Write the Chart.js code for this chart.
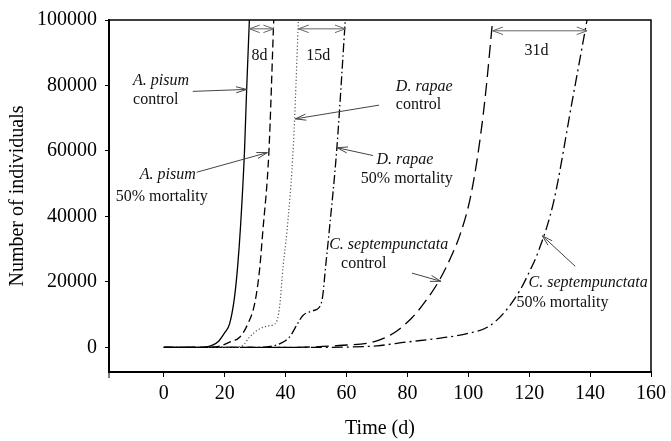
<!DOCTYPE html>
<html>
<head>
<meta charset="utf-8">
<script src="https://cdn.jsdelivr.net/npm/chart.js@4.4.1/dist/chart.umd.min.js"></script>
<style>
  html, body { margin: 0; padding: 0; background: #fff; }
  #wrap { width: 671px; height: 441px; }
</style>
</head>
<body>
<div id="wrap"><canvas id="growth-chart" width="671" height="441"></canvas></div>
<script>
// axis ticks
const xTicks = [0, 20, 40, 60, 80, 100, 120, 140, 160]
const yTicks = [0, 20000, 40000, 60000, 80000, 100000]

// series: time (d) / number of individuals
const apisumCtrlT = [0, 10, 14, 16, 18, 20, 21.6, 23.2, 24.3, 25.2, 26.5, 27.2, 28.1]
const apisumCtrlN = [0, 0, 200, 700, 1900, 4500, 7200, 15200, 25300, 37000, 60000, 78600, 100000]

const apisumMortT = [0, 12, 17, 19, 21.6, 24.9, 27.6, 29.8, 31.4, 32.5, 34.5, 36.1]
const apisumMortN = [0, 0, 150, 600, 1600, 3100, 7200, 13200, 23300, 35300, 59500, 100000]

const rapaeCtrlT = [0, 20, 24, 26, 28.1, 31.4, 34.7, 36.9, 38, 39.2, 40.4, 42.6, 44.2]
const rapaeCtrlN = [0, 0, 200, 600, 3100, 5650, 6650, 7650, 12200, 25000, 35000, 62500, 100000]

const rapaeMortT = [0, 30, 35, 38, 41.2, 43.9, 45.6, 48.9, 51, 52.1, 53.2, 54.3, 56.8, 59.6]
const rapaeMortN = [0, 0, 300, 1100, 3100, 7200, 9700, 11200, 12200, 15200, 25300, 35300, 60500, 100000]

const septCtrlT = [0, 40, 50, 57.6, 68.5, 75, 81.6, 86, 90.3, 94, 97.5, 100.5, 103, 105.5, 108]
const septCtrlN = [0, 0, 200, 600, 1600, 4100, 9150, 14200, 20200, 27000, 35000, 45000, 58000, 76000, 100000]

const septMortT = [0, 50, 60, 70, 79.4, 90.3, 100, 106.7, 112.1, 117, 120, 123, 128, 134, 139]
const septMortN = [0, 0, 100, 500, 1600, 2800, 4300, 6400, 11000, 17500, 23000, 29300, 44400, 74600, 100000]

// annotations: [text, t, n, italic, align]
const noteTexts = [
    ['A. pisum', -10.1, 81300, true, 'left'],
    ['control', -10.1, 75500, false, 'left'],
    ['A. pisum', 1.3, 52600, true, 'center'],
    ['50% mortality', -0.7, 45900, false, 'center'],
    ['D. rapae', 76.2, 79500, true, 'left'],
    ['control', 76.2, 74000, false, 'left'],
    ['D. rapae', 79.2, 57400, true, 'center'],
    ['50% mortality', 79.8, 51400, false, 'center'],
    ['C. septempunctata', 54.3, 31400, true, 'left'],
    ['control', 58.2, 25400, false, 'left'],
    ['C. septempunctata', 119.8, 19600, true, 'left'],
    ['50% mortality', 115.8, 13600, false, 'left'],
]
// pointer arrows: [tFrom, nFrom, tTo, nTo]
const noteArrows = [
    [9.5, 78200, 27.2, 78800],
    [10.8, 53500, 34.0, 59500],
    [70.7, 74000, 43.2, 69800],
    [68.7, 58600, 56.9, 61000],
    [81.5, 22700, 91.0, 20200],
    [135.1, 24800, 124.3, 34100],
]
// time lag spans: [tStart, tEnd, n, label, tLabel, nLabel]
const lagSpans = [
    [28.1, 36.1, 97300, '8d', 31.4, 89100],
    [44.2, 59.6, 97300, '15d', 50.7, 89100],
    [108, 139, 96700, '31d', 122.4, 90600],
]

const SERIF = '"Liberation Serif", "Times New Roman", serif'

const toPoints = (ts, ns) => ts.map((t, i) => ({x: t, y: ns[i]}))

const seriesStyle = (label, ts, ns, color, dash, width = 1.3) => ({
    label,
    data: toPoints(ts, ns),
    borderColor: color,
    borderWidth: width,
    borderDash: dash,
    pointRadius: 0,
    fill: false,
    cubicInterpolationMode: 'monotone',
})

const arrowHead = (ctx, x0, y0, x1, y1, len = 11, ang = 0.28) => {
    const a = Math.atan2(y1 - y0, x1 - x0)
    ctx.beginPath()
    ctx.moveTo(x1 - len * Math.cos(a - ang), y1 - len * Math.sin(a - ang))
    ctx.lineTo(x1, y1)
    ctx.lineTo(x1 - len * Math.cos(a + ang), y1 - len * Math.sin(a + ang))
    ctx.stroke()
}

const framePlugin = {
    id: 'frame',
    afterDraw: chart => {
        const {ctx, chartArea: {left, right, top, bottom}} = chart
        ctx.save()
        ctx.strokeStyle = '#000'
        ctx.lineWidth = 1.5
        ctx.beginPath()
        ctx.moveTo(left, top)
        ctx.lineTo(right, top)
        ctx.lineTo(right, bottom)
        ctx.stroke()
        ctx.lineWidth = 1
        ctx.beginPath()
        ctx.moveTo(left, bottom)
        ctx.lineTo(left, bottom + 6)
        ctx.stroke()
        ctx.restore()
    }
}

const notesPlugin = {
    id: 'notes',
    afterDatasetsDraw: chart => {
        const {ctx, scales: {x, y}} = chart
        ctx.save()
        ctx.fillStyle = '#111'
        ctx.textBaseline = 'middle'
        for (const [text, t, n, italic, align] of noteTexts) {
            ctx.font = `${italic ? 'italic ' : ''}16px ${SERIF}`
            ctx.textAlign = align
            ctx.fillText(text, x.getPixelForValue(t), y.getPixelForValue(n))
        }
        ctx.strokeStyle = '#444'
        ctx.lineWidth = 1
        ctx.setLineDash([])
        for (const [t0, n0, t1, n1] of noteArrows) {
            const x0 = x.getPixelForValue(t0), y0 = y.getPixelForValue(n0)
            const x1 = x.getPixelForValue(t1), y1 = y.getPixelForValue(n1)
            ctx.beginPath()
            ctx.moveTo(x0, y0)
            ctx.lineTo(x1, y1)
            ctx.stroke()
            arrowHead(ctx, x0, y0, x1, y1)
        }
        ctx.font = `16px ${SERIF}`
        ctx.textAlign = 'center'
        for (const [t0, t1, n, label, tl, nl] of lagSpans) {
            const x0 = x.getPixelForValue(t0), x1 = x.getPixelForValue(t1)
            const yy = y.getPixelForValue(n)
            ctx.strokeStyle = '#666'
            ctx.beginPath()
            ctx.moveTo(x0, yy)
            ctx.lineTo(x1, yy)
            ctx.stroke()
            const len = Math.min(11, (x1 - x0) / 2.2)
            arrowHead(ctx, x0, yy, x1, yy, len, 0.35)
            arrowHead(ctx, x1, yy, x0, yy, len, 0.35)
            ctx.fillText(label, x.getPixelForValue(tl), y.getPixelForValue(nl))
        }
        ctx.restore()
    }
}

const renderGrowthChart = () => {
    const canvasEl = document.getElementById('growth-chart')
    new Chart(canvasEl.getContext('2d'), {
        type: 'line',
        data: {
            datasets: [
                seriesStyle('A. pisum control', apisumCtrlT, apisumCtrlN, '#000', []),
                seriesStyle('A. pisum 50% mortality', apisumMortT, apisumMortN, '#000', [8, 4]),
                seriesStyle('D. rapae control', rapaeCtrlT, rapaeCtrlN, '#555', [1.2, 2.2], 1.2),
                seriesStyle('D. rapae 50% mortality', rapaeMortT, rapaeMortN, '#000', [9, 3, 1.5, 3]),
                seriesStyle('C. septempunctata control', septCtrlT, septCtrlN, '#000', [13, 6]),
                seriesStyle('C. septempunctata 50% mortality', septMortT, septMortN, '#000', [11, 4, 2, 4]),
            ]
        },
        options: {
            responsive: false,
            animation: false,
            devicePixelRatio: 1,
            layout: {padding: {left: 2, right: 18, top: 16, bottom: 0}},
            plugins: {
                legend: {display: false},
                tooltip: {enabled: false}
            },
            scales: {
                x: {
                    type: 'linear',
                    min: -18,
                    max: 160,
                    afterBuildTicks: scale => { scale.ticks = xTicks.map(v => ({value: v})) },
                    afterFit: scale => { scale.height = 69 },
                    grid: {drawOnChartArea: false, drawTicks: true, tickLength: 5, color: '#000', lineWidth: 1},
                    border: {display: true, color: '#000', width: 2},
                    ticks: {
                        color: '#000',
                        padding: 5,
                        maxRotation: 0,
                        font: {family: SERIF, size: 20}
                    },
                    title: {
                        display: true,
                        text: 'Time (d)',
                        color: '#000',
                        font: {family: SERIF, size: 20},
                        padding: {top: 1, bottom: 0}
                    }
                },
                y: {
                    type: 'linear',
                    min: -7500,
                    max: 100000,
                    afterBuildTicks: scale => { scale.ticks = yTicks.map(v => ({value: v})) },
                    afterFit: scale => { scale.width = 107 },
                    grid: {drawOnChartArea: false, drawTicks: true, tickLength: 4, color: '#000', lineWidth: 1},
                    border: {display: true, color: '#000', width: 2},
                    ticks: {
                        color: '#000',
                        padding: 8,
                        font: {family: SERIF, size: 20},
                        callback: value => String(value)
                    },
                    title: {
                        display: true,
                        text: 'Number of individuals',
                        color: '#000',
                        font: {family: SERIF, size: 20},
                        padding: {top: 4, bottom: 0}
                    }
                }
            }
        },
        plugins: [framePlugin, notesPlugin]
    })
}

document.addEventListener('DOMContentLoaded', renderGrowthChart, false)
</script>
</body>
</html>
